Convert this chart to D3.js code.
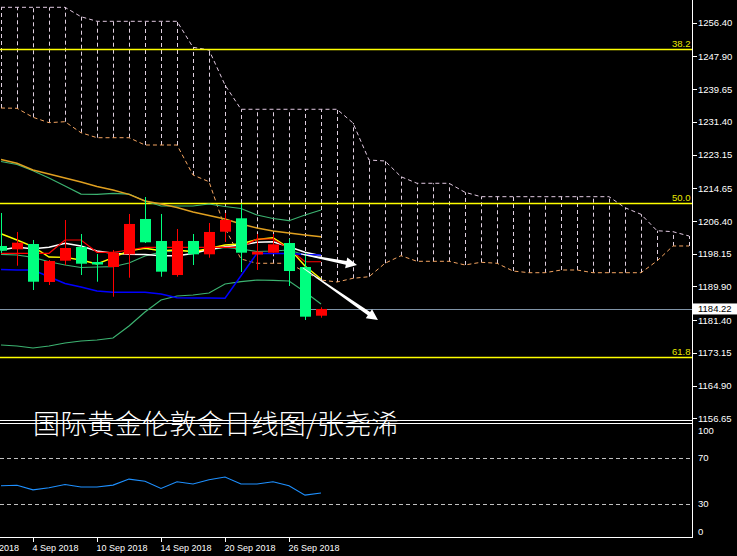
<!DOCTYPE html>
<html><head><meta charset="utf-8">
<script src="https://cdn.jsdelivr.net/npm/d3@7/dist/d3.min.js"></script>
<style>html,body{margin:0;padding:0;background:#000;overflow:hidden}</style>
</head><body><svg id="c" width="737" height="556"></svg>
<script>
// ---------- DATA ----------
const dates = ["31 Aug","3 Sep","4 Sep","5 Sep","6 Sep","7 Sep","10 Sep","11 Sep","12 Sep","13 Sep","14 Sep","17 Sep","18 Sep","19 Sep","20 Sep","21 Sep","24 Sep","25 Sep","26 Sep","27 Sep","28 Sep"];
const open  = [1200.10,1199.26,1200.60,1191.02,1196.39,1199.84,1196.06,1194.80,1198.00,1206.91,1201.36,1192.78,1201.36,1198.00,1203.70,1207.08,1197.95,1198.41,1200.85,1194.80,1182.52];
const high  = [1208.42,1203.63,1201.61,1196.56,1206.65,1203.12,1198.08,1199.09,1208.17,1212.45,1208.17,1204.38,1203.12,1205.90,1208.42,1210.69,1203.12,1203.12,1201.86,1198.33,1184.64];
const low   = [1198.33,1195.13,1189.00,1190.26,1195.30,1192.78,1191.09,1187.31,1192.10,1200.85,1192.35,1192.35,1195.30,1197.14,1201.10,1193.54,1194.05,1198.33,1190.01,1181.44,1182.02];
const close = [1198.91,1200.93,1191.09,1196.31,1199.59,1195.63,1195.43,1198.33,1205.65,1201.03,1193.62,1201.36,1198.00,1203.63,1206.65,1198.41,1198.66,1200.52,1193.79,1182.27,1184.22];

const tenkan = [1198.25,1198.25,1198.25,1198.25,1201.61,1201.61,1198.51,1198.51,1199.08,1199.77,1199.77,1199.77,1199.77,1199.77,1199.77,1199.77,1201.86,1201.86,1199.41,1196.13,1196.13];
const kijun  = [1194.17,1194.04,1194.04,1192.35,1190.64,1189.76,1188.75,1188.42,1188.42,1188.42,1187.99,1187.06,1186.98,1186.98,1186.91,1192.58,1198.25,1198.20,1198.20,1197.95,1197.82];
const ma5    = [1203.19,1201.61,1199.92,1197.32,1197.24,1196.56,1195.56,1197.14,1198.91,1199.51,1198.91,1199.08,1198.66,1199.46,1200.35,1200.60,1201.73,1202.19,1199.59,1195.05,1191.77];
const ma10   = [1199.08,1199.77,1199.41,1199.77,1200.77,1200.09,1198.83,1198.25,1198.00,1197.95,1197.65,1197.65,1198.20,1199.21,1199.92,1200.35,1201.03,1201.18,1199.92,1198.51,1197.65];
const bbMid  = [1198.00,1197.82,1197.24,1196.13,1195.30,1194.67,1194.80,1194.87,1195.81,1197.57,1198.58,1198.83,1198.83,1199.08,1199.72,1199.34,1198.71,1198.83,1199.08,1197.82,1197.07];
const bbUp   = [1221.40,1220.64,1219.08,1217.24,1215.22,1213.20,1213.13,1213.38,1213.20,1211.44,1210.18,1210.18,1210.18,1210.68,1210.05,1209.55,1207.91,1207.03,1206.47,1207.91,1209.17];
const bbLow  = [1175.13,1174.88,1174.38,1174.88,1175.64,1176.14,1176.39,1176.90,1179.92,1183.45,1186.48,1187.49,1187.74,1188.24,1190.51,1191.09,1191.52,1191.45,1191.27,1188.50,1185.47];
const maLong = [1221.90,1220.95,1219.26,1218.25,1217.24,1216.23,1215.10,1214.21,1213.13,1211.44,1210.68,1209.80,1208.67,1207.78,1206.90,1205.64,1204.63,1203.88,1203.37,1202.87,1202.44];

// Ichimoku cloud, bars 0..43 (shifted forward)
const spanA = [1234.89,1234.82,1232.55,1231.19,1231.44,1228.66,1227.40,1227.40,1227.40,1225.56,1225.56,1225.56,1218.00,1216.31,1204.64,1196.82,1195.74,1195.74,1195.74,1193.54,1191.52,1191.02,1191.95,1192.35,1195.74,1197.65,1196.24,1196.24,1196.24,1195.31,1195.99,1195.74,1193.79,1193.36,1193.36,1194.04,1194.04,1193.36,1193.36,1193.36,1193.36,1196.32,1200.10,1200.10];
const spanB = [1260.28,1260.28,1260.28,1260.28,1260.28,1257.91,1256.75,1256.75,1256.75,1256.75,1256.75,1256.75,1250.20,1249.52,1240.69,1234.57,1234.57,1234.57,1234.57,1234.57,1234.57,1234.57,1231.11,1221.78,1221.53,1217.57,1215.91,1215.91,1215.91,1213.64,1212.53,1212.53,1212.53,1212.53,1212.53,1212.53,1212.53,1212.53,1212.53,1209.75,1208.09,1203.95,1203.70,1202.62];

const rsi = [45.9,46.3,42.4,44.2,47.0,44.8,44.8,46.5,51.7,49.8,43.6,49.4,47.4,51.1,53.5,47.4,47.4,49.4,45.9,37.8,39.6];
const rsiLevels = [30,70];
const rsiLabels = [100,70,30,0];

const priceTicks = [1256.40,1247.90,1239.65,1231.40,1223.15,1214.65,1206.40,1198.15,1189.90,1181.40,1173.15,1164.90,1156.65];
const fibLabels = ["38.2","50.0","61.8"];
const fibPrices = [1249.77,1211.01,1172.03];
const currentPrice = 1184.22;

const dateTickIdx = [-2,2,6,10,14,18];
const dateTickLabels = ["29 Aug 2018","4 Sep 2018","10 Sep 2018","14 Sep 2018","20 Sep 2018","26 Sep 2018"];

// annotation arrows: [startBar, startPrice, endBar, endPrice]
const arrowStartBar = [18.75, 18.875];
const arrowStartPrice = [1198.08, 1194.55];
const arrowEndBar = [22.25, 23.56];
const arrowEndPrice = [1195.30, 1181.44];

const title = "国际黄金伦敦金日线图/张尧浠";

// ---------- LAYOUT ----------
const W = 737, H = 556;
const plotR = 692.5, mainBot = 421, rsiTop = 423.5, rsiBot = 537.5;
const FONT = "'Liberation Sans', Arial, sans-serif";

const x = d3.scaleLinear().domain([0, 43]).range([1, 689]);
const y = d3.scaleLinear().domain([1156.65, 1256.40]).range([418.3, 22.7]);
const yR = d3.scaleLinear().domain([0, 100]).range([538.8, 423.3]);

const svg = d3.select("#c");
svg.append("rect").attr("width", W).attr("height", H).attr("fill", "#000");

const defs = svg.append("defs");
defs.append("clipPath").attr("id", "cm").append("rect").attr("x", 0).attr("y", 0).attr("width", plotR).attr("height", mainBot);
defs.append("clipPath").attr("id", "cr").append("rect").attr("x", 0).attr("y", rsiTop).attr("width", plotR).attr("height", rsiBot - rsiTop);

const gM = svg.append("g").attr("clip-path", "url(#cm)");

// cloud hatch
const cloudIdx = d3.range(spanA.length);
gM.append("g").selectAll("line").data(cloudIdx).join("line")
  .attr("x1", i => Math.round(x(i)) + 0.5).attr("x2", i => Math.round(x(i)) + 0.5)
  .attr("y1", i => y(spanA[i])).attr("y2", i => y(spanB[i]))
  .attr("stroke", "#e0d0e0").attr("stroke-width", 1).attr("stroke-dasharray", "4,3");

const lineGen = arr => d3.line().x((d, i) => x(i)).y(d => y(d))(arr);
gM.append("path").attr("d", lineGen(spanB)).attr("fill", "none").attr("stroke", "#e0c8e0").attr("stroke-width", 1).attr("stroke-dasharray", "4,3");
gM.append("path").attr("d", lineGen(spanA)).attr("fill", "none").attr("stroke", "#f4a460").attr("stroke-width", 1).attr("stroke-dasharray", "4,3");

// fib lines
gM.append("g").selectAll("line").data(fibPrices).join("line")
  .attr("x1", 0).attr("x2", plotR).attr("y1", d => Math.round(y(d)) + 0.5).attr("y2", d => Math.round(y(d)) + 0.5)
  .attr("stroke", "#ffff00").attr("stroke-width", 1.3);

// current price line
gM.append("line").attr("x1", 0).attr("x2", plotR)
  .attr("y1", Math.round(y(currentPrice)) + 0.5).attr("y2", Math.round(y(currentPrice)) + 0.5)
  .attr("stroke", "#8094a8").attr("stroke-width", 1);

// indicator lines
const lines = [
  [bbUp, "#3cb371", 1.2], [bbMid, "#3cb371", 1.2], [bbLow, "#3cb371", 1.2],
  [maLong, "#e0a020", 1.4],
  [ma10, "#ffffff", 1.5], [ma5, "#ffff00", 1.4],
  [tenkan, "#ff0000", 1.2], [kijun, "#0000ff", 1.5]
];
lines.forEach(([arr, col, w]) => {
  gM.append("path").attr("d", lineGen(arr)).attr("fill", "none").attr("stroke", col).attr("stroke-width", w);
});

// candles
const idx = d3.range(dates.length);
const cg = gM.append("g");
idx.forEach(i => {
  const col = close[i] >= open[i] ? "#ff0000" : "#00ff7f";
  const cx = Math.round(x(i));
  cg.append("line").attr("x1", cx + 0.5).attr("x2", cx + 0.5)
    .attr("y1", y(high[i])).attr("y2", y(low[i])).attr("stroke", col).attr("stroke-width", 1);
  const top = y(Math.max(open[i], close[i])), bot = y(Math.min(open[i], close[i]));
  cg.append("rect").attr("x", cx - 5).attr("width", 11)
    .attr("y", top).attr("height", Math.max(1.5, bot - top)).attr("fill", col);
});

// arrows
function arrowPath(x1, y1, x2, y2) {
  const dx = x2 - x1, dy = y2 - y1, L = Math.hypot(dx, dy);
  const ux = dx / L, uy = dy / L, nx = -uy, ny = ux;
  const hl = 11, hw = 5.5;
  const bx = x2 - ux * hl, by = y2 - uy * hl;
  const p = [
    [x1 + nx * 0.4, y1 + ny * 0.4], [bx + nx * 2, by + ny * 2], [bx + nx * hw, by + ny * hw],
    [x2, y2], [bx - nx * hw, by - ny * hw], [bx - nx * 2, by - ny * 2], [x1 - nx * 0.4, y1 - ny * 0.4]
  ];
  return "M" + p.map(q => q.join(",")).join("L") + "Z";
}
arrowStartBar.forEach((b, k) => {
  gM.append("path").attr("d", arrowPath(x(b), y(arrowStartPrice[k]), x(arrowEndBar[k]), y(arrowEndPrice[k])))
    .attr("fill", "#ffffff");
});

// fib labels
svg.append("g").selectAll("text").data(fibPrices).join("text")
  .attr("x", plotR - 2).attr("y", d => Math.round(y(d)) - 2)
  .attr("text-anchor", "end").attr("fill", "#e8e800")
  .style("font", "9.5px " + FONT).text((d, i) => fibLabels[i]);

// title
svg.append("text").attr("x", 33).attr("y", 434)
  .attr("fill", "#ffffff").style("font-family", "'Noto Sans CJK SC', sans-serif")
  .style("font-size", "27px").style("font-weight", 300).style("letter-spacing", "0.3px").text(title);

// borders
const bl = svg.append("g").attr("stroke", "#ffffff").attr("stroke-width", 1).attr("shape-rendering", "crispEdges");
bl.append("line").attr("x1", 0).attr("x2", plotR).attr("y1", 420.5).attr("y2", 420.5);
bl.append("line").attr("x1", 0).attr("x2", plotR).attr("y1", 423.5).attr("y2", 423.5);
bl.append("line").attr("x1", 0).attr("x2", plotR).attr("y1", rsiBot).attr("y2", rsiBot);
bl.append("line").attr("x1", plotR).attr("x2", plotR).attr("y1", 0).attr("y2", rsiBot);

// price axis
const pa = svg.append("g").attr("transform", `translate(${plotR},0)`)
  .call(d3.axisRight(y).tickValues(priceTicks).tickSize(4).tickPadding(1.5).tickFormat(d3.format(".2f")));
pa.select(".domain").remove();
pa.selectAll("line").attr("stroke", "#ffffff").attr("shape-rendering", "crispEdges");
pa.selectAll("text").attr("fill", "#ffffff").style("font", "9.5px " + FONT);

// current price label
const cpY = y(currentPrice);
svg.append("rect").attr("x", plotR + 0.5).attr("y", cpY - 5.5).attr("width", 45).attr("height", 11).attr("fill", "#ffffff");
svg.append("text").attr("x", 698).attr("y", cpY).attr("dy", "0.35em").attr("fill", "#000")
  .style("font", "9.5px " + FONT).text(currentPrice.toFixed(2));

// RSI pane
const gR = svg.append("g").attr("clip-path", "url(#cr)");
gR.selectAll("line").data(rsiLevels).join("line")
  .attr("x1", 0).attr("x2", plotR).attr("y1", d => Math.round(yR(d)) + 0.5).attr("y2", d => Math.round(yR(d)) + 0.5)
  .attr("stroke", "#c0c0c0").attr("stroke-width", 1).attr("stroke-dasharray", "4,3");
gR.append("path").attr("d", d3.line().x((d, i) => x(i)).y(d => yR(d))(rsi))
  .attr("fill", "none").attr("stroke", "#1e90ff").attr("stroke-width", 1.1);

svg.append("g").selectAll("text").data(rsiLabels).join("text")
  .attr("x", 698).attr("y", d => d === 100 ? yR(d) + 7 : d === 0 ? yR(d) - 7 : yR(d))
  .attr("dy", "0.35em").attr("fill", "#ffffff").style("font", "9.5px " + FONT).text(d => d);

// date axis
const da = svg.append("g").attr("transform", `translate(0,${rsiBot})`)
  .call(d3.axisBottom(x).tickValues(dateTickIdx).tickSize(4).tickPadding(3).tickFormat((d, i) => dateTickLabels[i]));
da.select(".domain").remove();
da.selectAll("line").attr("stroke", "#ffffff").attr("shape-rendering", "crispEdges");
da.selectAll("text").attr("fill", "#ffffff").attr("text-anchor", "start").attr("x", -1).style("font", "9px " + FONT);
</script></body></html>
